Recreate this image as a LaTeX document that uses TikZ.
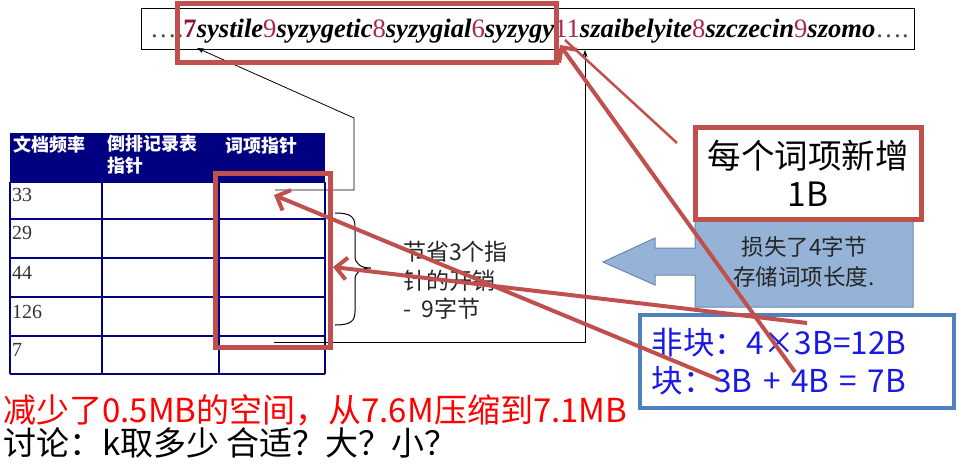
\documentclass[tikz,border=0pt]{standalone}
\usepackage{fontspec}
\setmainfont{Liberation Serif}
\newfontfamily\cjk{Noto Sans CJK SC}
\usetikzlibrary{arrows.meta}

\definecolor{slidered}{RGB}{192,80,77}
\definecolor{navy}{RGB}{0,0,128}
\definecolor{numpink}{RGB}{170,40,80}
\definecolor{numred}{RGB}{140,20,50}
\definecolor{arrowfill}{RGB}{149,179,215}
\definecolor{arrowedge}{RGB}{105,135,175}
\definecolor{boxblue}{RGB}{79,129,189}
\definecolor{textblue}{RGB}{25,25,230}

\newcommand{\sw}[1]{\textbf{\textit{#1}}}
\newcommand{\sn}[1]{\textcolor{numpink}{#1}}

\begin{document}
\begin{tikzpicture}[x=1pt,y=-1pt,
    redframe/.style={draw=slidered,line width=5pt},
    redarrow/.style={draw=slidered,line width=4pt,-{Straight Barb[length=11pt,width=22pt]}},
    ptrline/.style={draw=black,line width=0.8pt},
    gridline/.style={draw=navy,line width=1.2pt},
    cellnum/.style={anchor=west,inner sep=0,text=black!80,font=\fontsize{20}{22}\selectfont},
    headtxt/.style={anchor=north west,inner sep=0,text=white,align=left,font=\cjk\bfseries\fontsize{18}{22}\selectfont}]
    \pgfmathsetmacro{\tableft}{10}
    \pgfmathsetmacro{\tabright}{325}
    \pgfmathsetmacro{\headtop}{133}
    \pgfmathsetmacro{\headbot}{182}
    \pgfmathsetmacro{\tabbot}{374}
    \useasboundingbox (0,0) rectangle (959,467);

    % the term string
    \draw[line width=0.8pt] (141,8) rectangle (914,49);
    \node[anchor=west,inner sep=0,font=\fontsize{26.6}{30}\selectfont] (str) at (150,31)
    {{\color{black!70}\ldots.}{\bfseries\color{numred}7}\sw{systile}\sn{9}\sw{syzygetic}\sn{8}\sw{syzygial}\sn{6}\sw{syzygy}\sn{11}\sw{szaibelyite}\sn{8}\sw{szczecin}\sn{9}\sw{szomo}{\color{black!70}\ldots.}};
    \coordinate (s7) at (197,48);
    \coordinate (s11) at (560,45);
    \coordinate (s11b) at (585,50);

    % table
    \fill[navy] (\tableft,\headtop) rectangle (\tabright,\headbot);
    \foreach \y in {182,219,258,297,336,374}
        \draw[gridline] (\tableft,\y) -- (\tabright,\y);
    \foreach \x in {10,102,219,325}
        \draw[gridline] (\x,\headbot) -- (\x,\tabbot);
    \node[headtxt] (h1) at (13,136) {文档频率};
    \node[headtxt] (h2) at (107,135) {倒排记录表\\指针};
    \node[headtxt] (h3) at (225,137) {词项指针};
    \foreach \val/\y [count=\i] in {33/195,29/233,44/273,126/312,7/350}
        \node[cellnum] (f\i) at (12,\y) {\val};
    \coordinate (ptr1) at (275,190);
    \coordinate (ptr5) at (274,342);
    \coordinate (tgt1) at (274,195);
    \coordinate (tgt3) at (333,267);

    % pointers into the string
    \draw[ptrline,-{Stealth[length=7pt,width=5pt]}] (ptr1) -| (354,118) -- (s7);
    \draw[ptrline,-{Stealth[length=7pt,width=5pt]}] (ptr5) -| (s11b);

    % brace and saving
    \draw[line width=1pt] (335,213) .. controls (351,213) and (355,217) .. (355,227) -- (355,256)
        .. controls (355,264) and (361,268) .. (371,268) .. controls (361,268) and (355,272) .. (355,280)
        -- (355,311) .. controls (355,321) and (351,325) .. (335,325);
    \node[anchor=north west,inner sep=0,align=left,text=black!85,font=\cjk\fontsize{23}{28.5}\selectfont] (save) at (403,241)
    {节省3个指\\针的开销\\-~~9字节};

    % block arrow
    \draw[arrowedge,fill=arrowfill,line width=1pt] (913,220) -- (695,220) -- (695,248) -- (655,248) -- (655,238)
        -- (603,262) -- (655,285) -- (655,275) -- (695,275) -- (695,307) -- (913,307) -- cycle;
    \node[align=center,text=black!85,font=\cjk\fontsize{22.5}{30}\selectfont] (loss) at (804,262)
    {损失了4字节\\存储词项长度.};

    % boxes
    \node[redframe,fill=white,minimum width=226,minimum height=92,align=center,font=\cjk\fontsize{33.5}{38}\selectfont] (perterm) at (808,173)
    {每个词项新增\\1B};
    \node[draw=boxblue,line width=4pt,fill=white,text width=290,inner sep=12pt,minimum height=93,align=left,text=textblue,font=\cjk\fontsize{31.5}{38}\selectfont] (blk) at (796.5,361.5)
    {非块：4×3B=12B\\块：3B + 4B = 7B};
    \coordinate (blk3b) at (720,380);
    \coordinate (blk4b) at (795,372);
    \coordinate (blktop) at (807,323);
    \coordinate (termtop) at (677,143);

    % red frames
    \draw[redframe] (177,3) rectangle (556,62);
    \draw[redframe] (215,173) rectangle (330,347);

    % red arrows
    \draw[redarrow] (blk3b) -- (tgt1);
    \draw[redarrow] (blktop) -- (tgt3);
    \draw[redarrow] (blk4b) -- (s11);
    \draw[draw=slidered,line width=2.5pt] (termtop) -- (565,40);

    % notes
    \node[anchor=west,inner sep=0,text=red,font=\cjk\fontsize{33}{36}\selectfont] (note1) at (3,410) {减少了0.5MB的空间，从7.6M压缩到7.1MB};
    \node[anchor=west,inner sep=0,text=black,font=\cjk\fontsize{33}{36}\selectfont] (note2) at (3,443) {讨论：k取多少 合适？大？小？};
\end{tikzpicture}
\end{document}
